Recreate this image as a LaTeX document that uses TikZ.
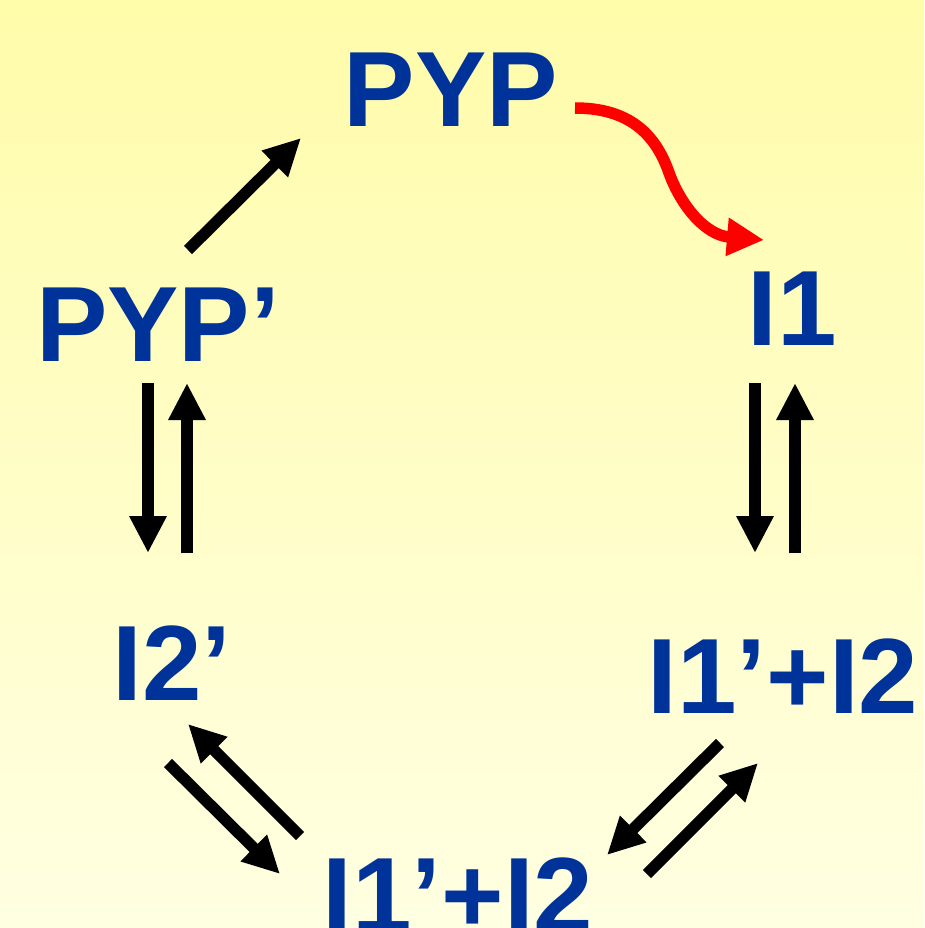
\documentclass[tikz,border=0pt]{standalone}
\usepackage{fontspec}
\setmainfont{Liberation Sans}
\usetikzlibrary{arrows.meta}
\definecolor{txtblue}{RGB}{0,51,153}
\definecolor{bgtop}{RGB}{255,252,170}
\definecolor{bgbot}{RGB}{255,255,226}
\definecolor{arrred}{RGB}{255,0,0}
\begin{document}
\begin{tikzpicture}[x=1pt,y=-1pt,
  lbl/.style={text=txtblue, font=\fontsize{107}{120}\selectfont\bfseries, inner sep=0pt, anchor=base},
  rxn/.style={line width=11.5pt, -{Triangle[length=37pt,width=35pt]}},
  redrxn/.style={arrred, line width=11.5pt, -{Triangle[length=37pt,width=36pt]}}
]
\fill[top color=bgtop, bottom color=bgbot] (0,0) rectangle (924,928);
\useasboundingbox (0,0) rectangle (924,928);
\clip (0,0) rectangle (924,928);

% species
\node[lbl] (pyp)   at (451,127) {PYP};
\node[lbl] (pypp)  at (158,361) {PYP’};
\node[lbl] (ione)  at (792,345) {I1};
\node[lbl] (itwop) at (172,700) {I2’};
\node[lbl] (mixr)  at (783,713) {I1’+I2};
\node[lbl] (mixb)  at (458,932) {I1’+I2};

% arrow end points
\coordinate (a1s) at (188,250); \coordinate (a1e) at (301,138);
\coordinate (r0) at (575,108); \coordinate (r1) at (668,170); \coordinate (r2) at (764,240);
\coordinate (l1s) at (148,383); \coordinate (l1e) at (148,553);
\coordinate (l2s) at (187,553); \coordinate (l2e) at (187,383);
\coordinate (v1s) at (755,383); \coordinate (v1e) at (755,553);
\coordinate (v2s) at (795,553); \coordinate (v2e) at (795,383);
\coordinate (d1s) at (168,763); \coordinate (d1e) at (280,874);
\coordinate (d2s) at (300,836); \coordinate (d2e) at (188,724);
\coordinate (e1s) at (720,743); \coordinate (e1e) at (607,855);
\coordinate (e2s) at (647,874); \coordinate (e2e) at (758,763);

% arrows
\draw[rxn] (a1s) -- (a1e);
\draw[redrxn] (r0) .. controls (630,108) and (655,135) .. (r1)
                   .. controls (680,205) and (705,235) .. (r2);
\draw[rxn] (l1s) -- (l1e);
\draw[rxn] (l2s) -- (l2e);
\draw[rxn] (v1s) -- (v1e);
\draw[rxn] (v2s) -- (v2e);
\draw[rxn] (d1s) -- (d1e);
\draw[rxn] (d2s) -- (d2e);
\draw[rxn] (e1s) -- (e1e);
\draw[rxn] (e2s) -- (e2e);
\end{tikzpicture}
\end{document}
